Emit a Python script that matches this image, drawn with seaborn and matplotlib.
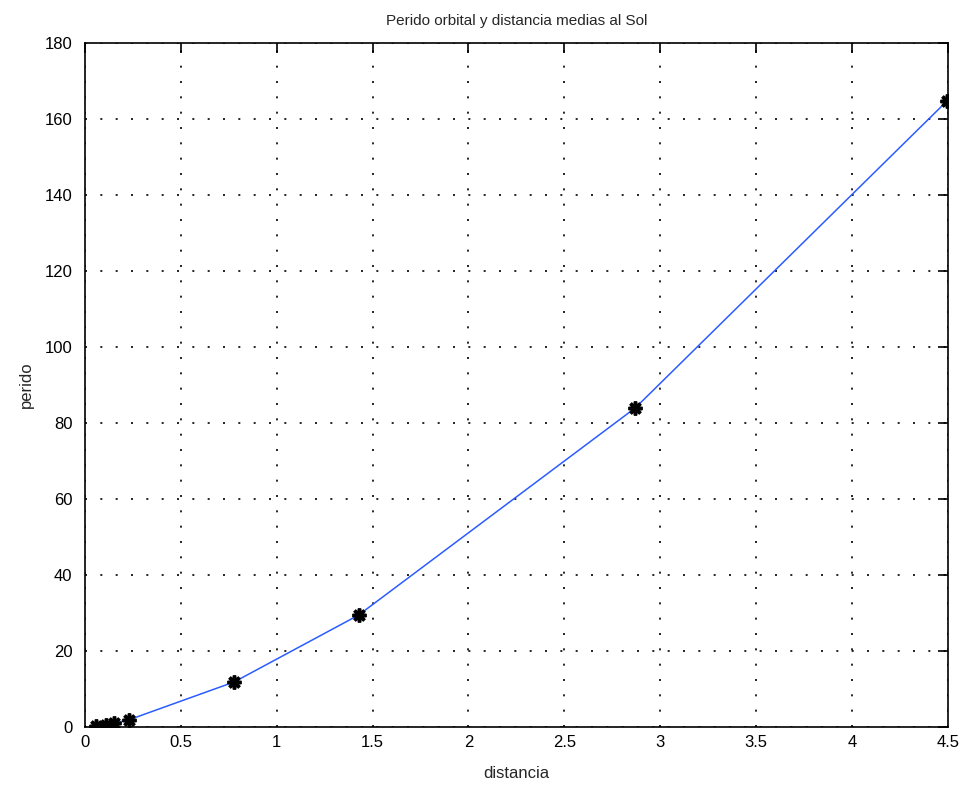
import pandas as pd
import matplotlib
matplotlib.use('Agg')
import matplotlib.pyplot as plt
import seaborn as sns

# distancia media al Sol (1e9 km) y periodo orbital (anos)
distancia = [0.058, 0.108, 0.150, 0.228, 0.778, 1.427, 2.871, 4.497]
perido = [0.24, 0.62, 1.0, 1.88, 11.86, 29.46, 84.01, 164.79]

df = pd.DataFrame({'distancia': distancia, 'perido': perido})

sns.set_style('white')
plt.rcParams['font.family'] = ['Liberation Sans', 'DejaVu Sans']
plt.rcParams['xtick.direction'] = 'in'
plt.rcParams['ytick.direction'] = 'in'

fig = plt.figure(figsize=(9.66, 7.87), dpi=100)
ax = fig.add_axes([0.088, 0.0762, 0.893, 0.869])

# linea azul con asteriscos negros (estilo '-*')
sns.lineplot(x='distancia', y='perido', data=df, color='#2b5cff', linewidth=1.1, ax=ax,
             marker=(8, 2, 0), markersize=10, markerfacecolor='black', markeredgecolor='black',
             markeredgewidth=2.5)

ax.set_xlim(0, 4.5)
ax.set_ylim(0, 180)
ax.set_xticks([0, 0.5, 1, 1.5, 2, 2.5, 3, 3.5, 4, 4.5])
ax.set_xticklabels(['0', '0.5', '1', '1.5', '2', '2.5', '3', '3.5', '4', '4.5'])
ax.set_yticks(range(0, 181, 20))
ax.grid(True, linestyle=(0, (1.2, 8)), color='black', linewidth=1.2)
ax.tick_params(top=True, right=True, length=7, width=1.2, labelsize=12, colors='black')
ax.tick_params(axis='y', pad=9)
ax.tick_params(axis='x', pad=6)
for s in ax.spines.values():
    s.set_color('black')
    s.set_linewidth(1.2)

ax.set_title('Perido orbital y distancia medias al Sol', fontsize=11, pad=13)
ax.set_xlabel('distancia', fontsize=12, labelpad=11)
ax.set_ylabel('perido', fontsize=12, labelpad=8)

fig.savefig('out.png', dpi=100)
